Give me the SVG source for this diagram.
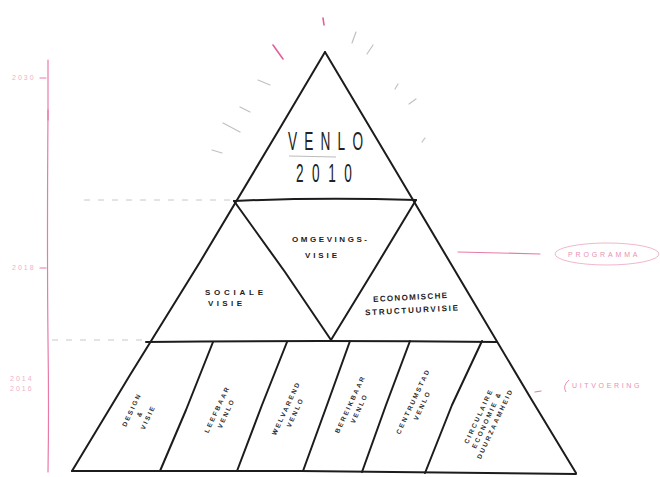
<svg xmlns="http://www.w3.org/2000/svg" width="660" height="477" viewBox="0 0 660 477">
<style>
.ink{fill:none;stroke:#1c1c1c;stroke-width:2;stroke-linecap:round;stroke-linejoin:round}
.dash{fill:none;stroke:#c8c8c8;stroke-width:1;stroke-dasharray:6 8}
.pink{fill:none;stroke:#e87aa8;stroke-width:1.2;stroke-linecap:round}
.ray{fill:none;stroke:#c0c0c0;stroke-width:1.2;stroke-linecap:round}
.rayp{fill:none;stroke:#e0609a;stroke-width:1.6;stroke-linecap:round}
.big{font-family:"Liberation Sans",Arial,sans-serif;font-size:22px;fill:#222}
.sm{font-family:"Liberation Sans",Arial,sans-serif;font-size:8px;font-weight:bold;fill:#1c1c1c}
.col{font-family:"Liberation Sans",Arial,sans-serif;font-size:6.5px;font-weight:bold;fill:#2a2a2a;letter-spacing:2px;text-anchor:middle}
.plab{font-family:"Liberation Sans",Arial,sans-serif;font-size:7px;fill:#e890b4;letter-spacing:2.5px}
.glab{font-family:"Liberation Sans",Arial,sans-serif;font-size:7px;fill:#f0b0c8;letter-spacing:2px}
</style>

<g id="rays">
<line class="rayp" x1="323" y1="18" x2="324" y2="25"/>
<line class="rayp" x1="273" y1="45" x2="283" y2="59"/>
<line class="ray" x1="356" y1="32" x2="352" y2="43"/>
<line class="ray" x1="373" y1="45" x2="367" y2="54"/>
<line class="ray" x1="258" y1="80" x2="270" y2="85"/>
<line class="ray" x1="398" y1="84" x2="395" y2="89"/>
<line class="ray" x1="240" y1="107" x2="250" y2="112"/>
<line class="ray" x1="416" y1="99" x2="409" y2="104"/>
<line class="ray" x1="223" y1="123" x2="240" y2="132"/>
<line class="ray" x1="425" y1="138" x2="422" y2="142"/>
<line class="ray" x1="212" y1="150" x2="222" y2="153"/>
</g>

<g id="timeline">
<path class="pink" d="M48,60 L48,120" stroke="#c0a0b0"/>
<path class="pink" d="M48,110 Q47,250 48,340 Q49,410 48,472" stroke="#e0609a" stroke-width="1.4"/>
<text class="glab" x="12" y="80">2030</text>
<line class="pink" x1="40" y1="78" x2="46" y2="78"/>
<text class="glab" x="12" y="270">2018</text>
<line class="pink" x1="40" y1="268" x2="46" y2="268"/>
<text class="glab" x="10" y="381">2014</text>
<text class="glab" x="10" y="391">2016</text>
</g>

<g id="connectors">
<line class="dash" x1="84" y1="200" x2="232" y2="200"/>
<line class="dash" x1="52" y1="340" x2="148" y2="340"/>
<path class="pink" d="M458,252 L500,253 L540,254" stroke="#e890b4"/>
<line class="pink" x1="535" y1="392" x2="541" y2="391" stroke="#e890b4"/>
</g>

<g id="node-pyramid">
<path class="ink" d="M325,52 L280,128 L200,262 L130,375 L72,471"/>
<path class="ink" d="M325,52 L400,178 L470,296 L530,397 L576,473"/>
<path class="ink" d="M72,471 L300,471 L576,474"/>
</g>

<g id="node-venlo">
<path class="ink" d="M234,201 Q320,197 416,200"/>
<line x1="289" y1="156" x2="336" y2="157" stroke="#bbb" stroke-width="1"/>
<text class="big" transform="translate(288,150) scale(0.62,1.2)" textLength="121" lengthAdjust="spacing">VENLO</text>
<text class="big" transform="translate(296,182) scale(0.62,1.2)" textLength="90" lengthAdjust="spacing">2010</text>
</g>

<g id="node-omgevingsvisie">
<path class="ink" d="M234,201 L285,272 L331,340"/>
<path class="ink" d="M416,200 L375,268 L331,340"/>
<text class="sm" x="292" y="242" textLength="75" lengthAdjust="spacing">OMGEVINGS-</text>
<text class="sm" x="305" y="258" textLength="32" lengthAdjust="spacing">VISIE</text>
</g>

<g id="node-sociale-visie">
<text class="sm" x="205" y="295" textLength="58" lengthAdjust="spacing">SOCIALE</text>
<text class="sm" x="208" y="306" textLength="34" lengthAdjust="spacing">VISIE</text>
</g>

<g id="node-economische">
<text class="sm" x="373" y="300" textLength="74" lengthAdjust="spacing" transform="rotate(-3 410 297)">ECONOMISCHE</text>
<text class="sm" x="365" y="313" textLength="93" lengthAdjust="spacing" transform="rotate(-3 410 310)">STRUCTUURVISIE</text>
</g>

<g id="node-columns">
<path class="ink" d="M146,342 Q320,340 497,342"/>
<path class="ink" d="M213,342 L186,410 L160,471"/>
<path class="ink" d="M287,342 L262,405 L237,471"/>
<path class="ink" d="M350,341 L327,405 L303,471"/>
<path class="ink" d="M410,341 L386,405 L362,472"/>
<path class="ink" d="M482,341 L452,405 L425,473"/>
</g>

<g id="node-col1" transform="translate(141,414) rotate(-65)">
<text class="col" x="0" y="-8">DESIGN</text>
<text class="col" x="0" y="1">&amp;</text>
<text class="col" x="0" y="10">VISIE</text>
</g>
<g id="node-col2" transform="translate(221,411) rotate(-65)">
<text class="col" x="0" y="-2">LEEFBAAR</text>
<text class="col" x="0" y="8">VENLO</text>
</g>
<g id="node-col3" transform="translate(290,410) rotate(-65)">
<text class="col" x="0" y="-2">WELVAREND</text>
<text class="col" x="0" y="8">VENLO</text>
</g>
<g id="node-col4" transform="translate(354,406) rotate(-65)">
<text class="col" x="0" y="-2">BEREIKBAAR</text>
<text class="col" x="0" y="8">VENLO</text>
</g>
<g id="node-col5" transform="translate(417,403) rotate(-65)">
<text class="col" x="0" y="-2">CENTRUMSTAD</text>
<text class="col" x="0" y="8">VENLO</text>
</g>
<g id="node-col6" transform="translate(487,420) rotate(-65)">
<text class="col" x="0" y="-7">CIRCULAIRE</text>
<text class="col" x="0" y="2">ECONOMIE &amp;</text>
<text class="col" x="0" y="11">DUURZAAMHEID</text>
</g>

<g id="label-programma">
<ellipse cx="607" cy="254" rx="52" ry="11" fill="none" stroke="#f0b8cc" stroke-width="1"/>
<text class="plab" x="568" y="257" textLength="72" lengthAdjust="spacing">PROGRAMMA</text>
</g>
<g id="label-uitvoering">
<path d="M569,380 Q562,386 566,392" fill="none" stroke="#e890b4" stroke-width="1"/>
<text class="plab" x="572" y="388" textLength="70" lengthAdjust="spacing">UITVOERING</text>
</g>
</svg>
